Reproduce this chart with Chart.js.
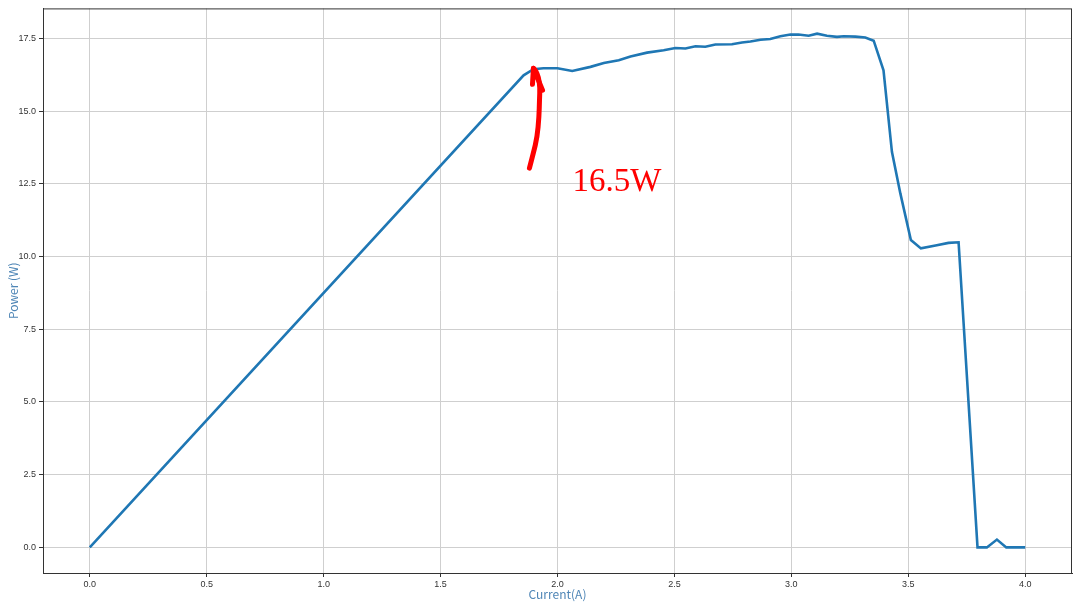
<!DOCTYPE html>
<html>
<head>
<meta charset="utf-8">
<script src="https://cdn.jsdelivr.net/npm/chart.js@4/dist/chart.umd.min.js"></script>
<style>
  html, body { margin: 0; padding: 0; background: #fff; }
  #wrap { width: 1080px; height: 608px; }
</style>
</head>
<body>
<div id="wrap"><canvas id="pvChart"></canvas></div>
<script>
// 讀圖得到的數據 (Current A, Power W)
const current = [0, 1.855, 1.897, 1.94, 2.0, 2.063, 2.141, 2.198, 2.262, 2.312, 2.383, 2.454,
  2.504, 2.547, 2.59, 2.632, 2.675, 2.746, 2.789, 2.825, 2.868, 2.91, 2.953, 2.996, 3.03,
  3.074, 3.11, 3.152, 3.195, 3.224, 3.274, 3.316, 3.352, 3.394, 3.43, 3.466, 3.511, 3.554,
  3.622, 3.672, 3.715, 3.796, 3.836, 3.879, 3.919, 4.0];
const power = [0, 16.23, 16.44, 16.47, 16.47, 16.38, 16.52, 16.65, 16.75, 16.88, 17.01, 17.09,
  17.17, 17.15, 17.23, 17.21, 17.29, 17.30, 17.36, 17.39, 17.45, 17.48, 17.57, 17.63, 17.63,
  17.59, 17.66, 17.59, 17.55, 17.57, 17.56, 17.53, 17.42, 16.40, 13.60, 12.17, 10.57, 10.28,
  10.39, 10.47, 10.49, 0, 0, 0.27, 0, 0];

const xTicks = [0, 0.5, 1.0, 1.5, 2.0, 2.5, 3.0, 3.5, 4.0];
const yTicks = [0, 2.5, 5.0, 7.5, 10.0, 12.5, 15.0, 17.5];

// 手繪紅色箭頭 (資料座標)
const arrowPath = [[1.880, 13.04], [1.897, 13.56], [1.913, 14.10], [1.921, 14.8],
  [1.923, 15.4], [1.925, 15.82], [1.919, 16.16], [1.906, 16.40], [1.897, 16.47]];
const arrowHead = [[1.893, 15.92], [1.897, 16.47], [1.936, 15.72]];
const noteText = "16.5W";
const notePos = [2.064, 12.25];

const axisColor = "#333";
const titleColor = "#4f86b6";

// 紅色標註 + 外框
const annotate = {
  id: "annotate",
  afterDatasetsDraw(chart) {
    const { ctx, chartArea: area, scales: { x, y } } = chart;
    const px = p => [x.getPixelForValue(p[0]), y.getPixelForValue(p[1])];
    ctx.save();
    ctx.strokeStyle = axisColor;
    ctx.lineWidth = 1;
    ctx.strokeRect(area.left + 0.5, area.top + 0.5, area.right - area.left - 1, area.bottom - area.top);

    ctx.strokeStyle = "#ff0000";
    ctx.lineWidth = 5;
    ctx.lineCap = "round";
    ctx.lineJoin = "round";
    // 平滑曲線
    const pts = arrowPath.map(px);
    ctx.beginPath();
    ctx.moveTo(pts[0][0], pts[0][1]);
    for (let i = 1; i < pts.length - 1; i++) {
      const mx = (pts[i][0] + pts[i + 1][0]) / 2;
      const my = (pts[i][1] + pts[i + 1][1]) / 2;
      ctx.quadraticCurveTo(pts[i][0], pts[i][1], mx, my);
    }
    ctx.lineTo(pts[pts.length - 1][0], pts[pts.length - 1][1]);
    ctx.stroke();

    ctx.beginPath();
    arrowHead.map(px).forEach(([a, b], i) => {
      if (i === 0) ctx.moveTo(a, b); else ctx.lineTo(a, b);
    });
    ctx.stroke();

    const [tx, ty] = px(notePos);
    ctx.fillStyle = "#ff0000";
    ctx.font = "33px 'Liberation Serif', serif";
    ctx.textAlign = "left";
    ctx.textBaseline = "alphabetic";
    ctx.fillText(noteText, tx, ty);
    ctx.restore();
  }
};

new Chart(document.getElementById("pvChart"), {
  type: "line",
  data: {
    datasets: [{
      data: current.map((c, i) => ({ x: c, y: power[i] })),
      borderColor: "#1f77b4",
      borderWidth: 2.6,
      pointRadius: 0,
      tension: 0,
      fill: false
    }]
  },
  options: {
    responsive: true,
    maintainAspectRatio: false,
    animation: false,
    layout: { padding: { top: 8, right: 8, left: 0, bottom: 0 } },
    plugins: { legend: { display: false }, tooltip: { enabled: false } },
    scales: {
      x: {
        type: "linear",
        min: -0.2,
        max: 4.2,
        afterBuildTicks: s => { s.ticks = xTicks.map(v => ({ value: v })); },
        afterFit: s => { s.height = 35; },
        grid: { color: "#cfcfcf", lineWidth: 1, tickColor: axisColor, tickLength: 4 },
        border: { color: axisColor, width: 1 },
        ticks: {
          color: "#333",
          font: { family: "'Liberation Sans'", size: 9 },
          padding: 2,
          maxRotation: 0,
          callback: v => v.toFixed(1)
        },
        title: {
          display: true,
          text: "Current(A)",
          color: titleColor,
          font: { family: "'Noto Sans CJK SC'", size: 12 },
          padding: { top: 0, bottom: 6 }
        }
      },
      y: {
        type: "linear",
        min: -0.88,
        max: 18.53,
        afterBuildTicks: s => { s.ticks = yTicks.map(v => ({ value: v })); },
        afterFit: s => { s.width = 43; },
        grid: { color: "#cfcfcf", lineWidth: 1, tickColor: axisColor, tickLength: 4 },
        border: { color: axisColor, width: 1 },
        ticks: {
          color: "#333",
          font: { family: "'Liberation Sans'", size: 9 },
          padding: 3,
          callback: v => v.toFixed(1)
        },
        title: {
          display: true,
          text: "Power (W)",
          color: titleColor,
          font: { family: "'Noto Sans CJK SC'", size: 12 },
          padding: { top: 6, bottom: 0 }
        }
      }
    }
  },
  plugins: [annotate]
});
</script>
</body>
</html>
